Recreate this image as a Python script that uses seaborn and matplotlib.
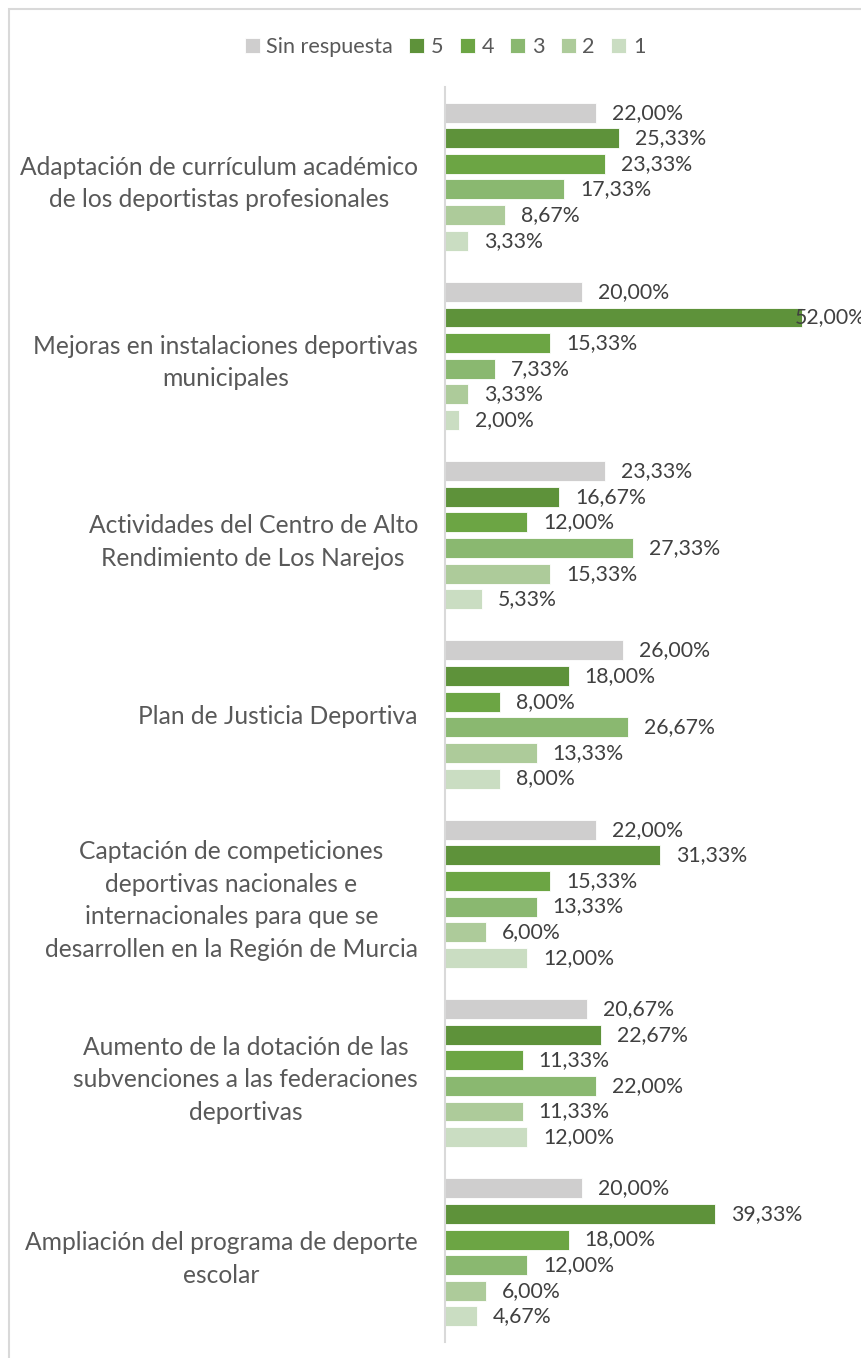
import pandas as pd
import matplotlib
matplotlib.use('Agg')
import matplotlib.pyplot as plt
import seaborn as sns
from matplotlib.patches import Rectangle

# Datos (porcentajes)
categorias = [
    "Adaptación de currículum académico\nde los deportistas profesionales",
    "Mejoras en instalaciones deportivas\nmunicipales",
    "Actividades del Centro de Alto\nRendimiento de Los Narejos",
    "Plan de Justicia Deportiva",
    "Captación de competiciones\ndeportivas nacionales e\ninternacionales para que se\ndesarrollen en la Región de Murcia",
    "Aumento de la dotación de las\nsubvenciones a las federaciones\ndeportivas",
    "Ampliación del programa de deporte\nescolar",
]
series = ["Sin respuesta", "5", "4", "3", "2", "1"]
sin_respuesta = [22.00, 20.00, 23.33, 26.00, 22.00, 20.67, 20.00]
valor_5 = [25.33, 52.00, 16.67, 18.00, 31.33, 22.67, 39.33]
valor_4 = [23.33, 15.33, 12.00, 8.00, 15.33, 11.33, 18.00]
valor_3 = [17.33, 7.33, 27.33, 26.67, 13.33, 22.00, 12.00]
valor_2 = [8.67, 3.33, 15.33, 13.33, 6.00, 11.33, 6.00]
valor_1 = [3.33, 2.00, 5.33, 8.00, 12.00, 12.00, 4.67]
colores = ["#CFCECE", "#5E923A", "#6CA544", "#8AB870", "#ADCB9A", "#CADDC2"]

valores = [sin_respuesta, valor_5, valor_4, valor_3, valor_2, valor_1]
rows = []
for s, vals in zip(series, valores):
    for c, v in zip(categorias, vals):
        rows.append({"categoria": c, "serie": s, "valor": v})
df = pd.DataFrame(rows)

sns.set_style("white")
plt.rcParams['font.family'] = ['Lato', 'DejaVu Sans']

W, H = 861, 1358
PX = 6.865  # pixeles por punto porcentual
fig = plt.figure(figsize=(W / 100, H / 100), dpi=100)
ax = fig.add_axes([445 / W, 1 - 1342 / H, (W - 445) / W, (1342 - 87) / H])

sns.barplot(data=df, y="categoria", x="valor", hue="serie", order=categorias,
            hue_order=series, palette=colores, saturation=1, orient="h",
            width=6 / 7, gap=0.22, edgecolor="white", linewidth=0.6, ax=ax)

xmax = (W - 445) / PX
ax.set_xlim(0, xmax)
ax.set_ylim(len(categorias) - 0.5, -0.5)

# etiquetas de valor
for cont in ax.containers:
    for p in cont.patches:
        v = p.get_width()
        y = p.get_y() + p.get_height() / 2
        txt = f"{v:.2f}".replace(".", ",") + "%"
        if v > 45:
            # no cabe: se pega al borde como en Excel
            x = v - 7 / PX
        else:
            x = v + 16 / PX
        ax.text(x, y, txt, ha="left", va="center", fontsize=15.3,
                color="#404040", zorder=5, clip_on=False)

ax.set_xlabel("")
ax.set_ylabel("")
ax.set_xticks([])
ax.tick_params(axis="y", length=0, pad=19.5)
for lab in ax.get_yticklabels():
    lab.set_fontsize(17.7)
    lab.set_color("#595959")
    lab.set_multialignment("center")
    lab.set_linespacing(1.5)

for side in ["top", "right", "bottom"]:
    ax.spines[side].set_visible(False)
ax.spines["left"].set_color("#D9D9D9")
ax.spines["left"].set_linewidth(1.5)

handles, labels = ax.get_legend_handles_labels()
ax.get_legend().remove()
fig.legend(handles, labels, loc="center", bbox_to_anchor=(445 / W, 1 - 47 / H),
           ncol=6, frameon=False, fontsize=15.6, handlelength=0.7, handleheight=0.7,
           handletextpad=0.3, columnspacing=0.75, labelcolor="#595959")

# marco del gráfico
fig.add_artist(Rectangle((9 / W, -0.1), 1.2, 1.1 - 9 / H, transform=fig.transFigure,
                         fill=False, edgecolor="#D9D9D9", linewidth=1.5))

fig.savefig("out.png", dpi=100)
